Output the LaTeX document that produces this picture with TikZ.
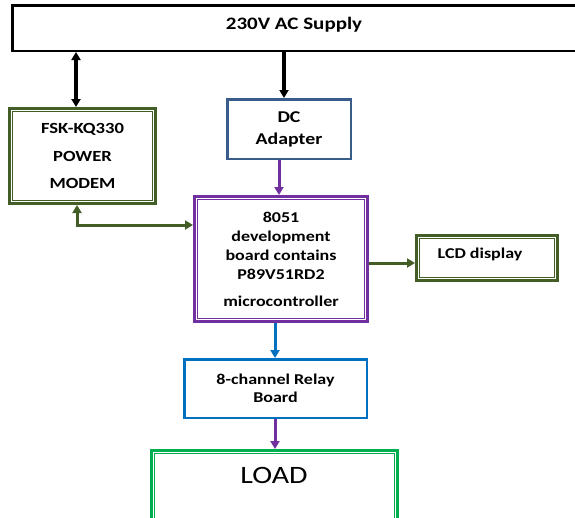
\documentclass[tikz,border=0pt]{standalone}
\usepackage{fontspec}
\setmainfont{Carlito}[FakeStretch=1.2]
\usetikzlibrary{arrows.meta}
\definecolor{olive}{HTML}{435D26}
\definecolor{purp}{HTML}{7030A0}
\definecolor{dcblue}{HTML}{385D8A}
\definecolor{rblue}{HTML}{0070C0}
\definecolor{lgreen}{HTML}{00B050}
\tikzset{
  box/.style={draw=#1, rectangle, inner sep=0pt, align=center, fill=white},
  thickbox/.style={box=#1, line width=2.5pt},
  dblbox/.style={box=#1, line width=2.7pt},
  txt/.style={font=\bfseries\fontsize{15}{19}\selectfont, align=center, inner sep=0pt},
  conn/.style={line width=#1, -{Triangle[length=8pt,width=9pt]}},
  biconn/.style={line width=#1, {Triangle[length=8pt,width=9pt]}-{Triangle[length=8pt,width=9pt]}},
}
\newcommand{\innerline}[2]{\draw[#2, line width=0.8pt] ([shift={(4.2,4.2)}]#1.north west) rectangle ([shift={(-4.2,-4.2)}]#1.south east);}
\begin{document}
\begin{tikzpicture}[x=1pt,y=-1pt]
\useasboundingbox (0,0) rectangle (575,517);
\clip (0,0) rectangle (575,517);
\fill[white] (0,0) rectangle (575,517);

% boxes
\node[thickbox=black, minimum width=566.5pt, minimum height=45.5pt] (ac) at (295.5,28) {};
\node[txt, font=\bfseries\fontsize{17.5}{20}\selectfont] (actxt) at (294,25) {230V AC Supply};

\node[dblbox=olive, minimum width=146.3pt, minimum height=95.3pt, txt, font=\bfseries\fontsize{15.5}{27.5}\selectfont] (modem) at (82.5,156) {FSK-KQ330\\POWER\\MODEM};
\innerline{modem}{olive}

\node[thickbox=dcblue, minimum width=123.5pt, minimum height=59.5pt, txt, font=\bfseries\fontsize{16.5}{22}\selectfont] (dc) at (289,129) {DC\\Adapter};

\node[dblbox=purp, minimum width=173.3pt, minimum height=125.3pt, txt] (mcu) at (281,259) {8051\\development\\board contains\\P89V51RD2\\[8pt]microcontroller};
\innerline{mcu}{purp}

\node[dblbox=olive, minimum width=141.3pt, minimum height=45.3pt] (lcd) at (487,258) {};
\innerline{lcd}{olive}
\node[txt] (lcdtxt) at (480,254) {LCD display};

\node[thickbox=rblue, minimum width=182.5pt, minimum height=58.5pt, txt, font=\bfseries\fontsize{15}{18}\selectfont] (relay) at (275.5,388.5) {8-channel Relay\\Board};

\node[dblbox=lgreen, minimum width=246.3pt, minimum height=88.3pt] (load) at (274.5,494.5) {};
\innerline{load}{lgreen}
\node[inner sep=0pt, font=\fontsize{25}{28}\selectfont] (loadtxt) at (274,475) {LOAD};

% connector x/y positions
\coordinate (xm) at (76,0);
\coordinate (xdc) at (284,0);
\coordinate (xdm) at (279,0);
\coordinate (xmr) at (275,0);
\coordinate (ym) at (77,225);
\coordinate (yl) at (0,263);

% connectors
\draw[biconn=3.2pt, black] (ac.south -| xm) -- (modem.north -| xm);
\draw[conn=3.2pt, black] (ac.south -| xdc) -- (dc.north -| xdc);
\draw[conn=3pt, purp] (dc.south -| xdm) -- (mcu.north -| xdm);
\draw[biconn=3pt, olive] (modem.south -| ym) |- (mcu.west |- ym);
\draw[conn=3pt, olive] (mcu.east |- yl) -- (lcd.west |- yl);
\draw[conn=3pt, rblue] (mcu.south -| xmr) -- (relay.north -| xmr);
\draw[conn=3pt, purp] (relay.south -| xmr) -- (load.north -| xmr);
\end{tikzpicture}
\end{document}
